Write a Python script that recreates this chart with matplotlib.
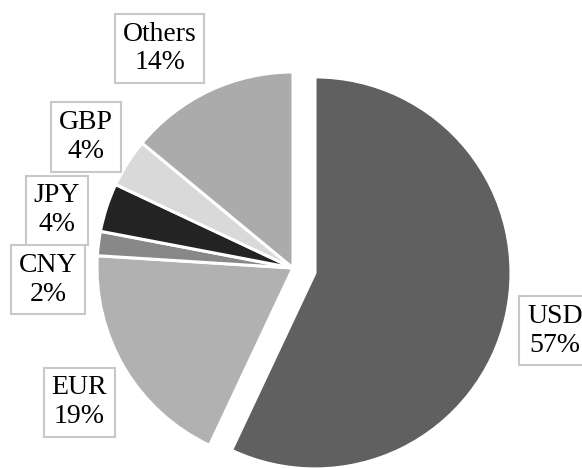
import matplotlib
matplotlib.use('Agg')
from matplotlib import pyplot as plt

# currency shares (%)
currencies = ['USD', 'EUR', 'CNY', 'JPY', 'GBP', 'Others']
shares = [57, 19, 2, 4, 4, 14]
colors = ['#606060', '#b1b1b1', '#888888', '#232323', '#d9d9d9', '#ababab']
explode = [0.115, 0, 0, 0, 0, 0]

# label box centres, in pie-radius units
label_pos = [(1.337, -0.32), (-1.09, -0.685), (-1.25, -0.06),
             (-1.205, 0.295), (-1.057, 0.668), (-0.68, 1.12)]

fig = plt.figure(figsize=(5.82, 4.68), dpi=100)
ax = fig.add_axes([0, 0, 1, 1])

ax.pie(shares, colors=colors, explode=explode, startangle=90,
       counterclock=False, radius=1.0,
       wedgeprops=dict(edgecolor='white', linewidth=2.2))

for name, val, (x, y) in zip(currencies, shares, label_pos):
    ax.text(x, y, '%s\n%d%%' % (name, val), ha='center', va='center',
            family=['Liberation Serif', 'DejaVu Serif'], fontsize=20,
            linespacing=1.2,
            bbox=dict(boxstyle='square,pad=0.28', fc='white',
                      ec='#c8c8c8', lw=1.5))

# centre of the pie sits at (293, 268) px, radius ~196 px
r_px = 196.0
ax.set_xlim(-293 / r_px, (582 - 293) / r_px)
ax.set_ylim(-(468 - 268) / r_px, 268 / r_px)
ax.set_aspect('auto')
ax.axis('off')

fig.savefig('out.png', dpi=100)
